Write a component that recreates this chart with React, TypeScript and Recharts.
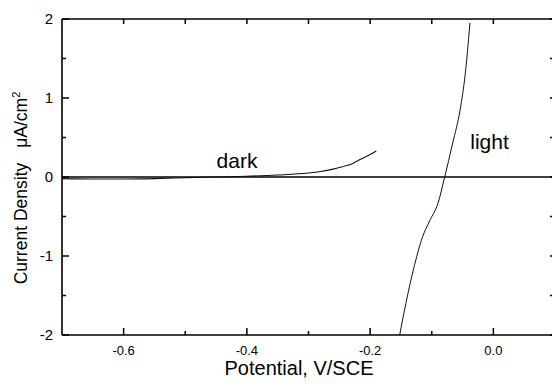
import React from "react";
import { LineChart, Line, XAxis, YAxis, ReferenceLine } from "recharts";

// Potential (V/SCE) vs current density (µA/cm²)
const darkPotential = [-0.7, -0.65, -0.6, -0.55, -0.5, -0.45, -0.4, -0.35, -0.3, -0.28, -0.26, -0.245, -0.23, -0.218, -0.205, -0.19];
const darkCurrent = [-0.02, -0.025, -0.025, -0.02, -0.01, 0.0, 0.01, 0.025, 0.05, 0.07, 0.1, 0.13, 0.165, 0.215, 0.265, 0.33];

const lightPotential = [-0.152, -0.142, -0.13, -0.115, -0.103, -0.09, -0.079, -0.066, -0.054, -0.046, -0.038];
const lightCurrent = [-2.0, -1.6, -1.18, -0.76, -0.55, -0.335, 0.0, 0.43, 0.85, 1.28, 1.95];

const xTicks = [-0.6, -0.5, -0.4, -0.3, -0.2, -0.1, 0.0];
const xMajorLabels: Record<string, string> = { "-0.6": "-0.6", "-0.4": "-0.4", "-0.2": "-0.2", "0": "0.0" };
const yTicks = [-2, -1.5, -1, -0.5, 0, 0.5, 1, 1.5, 2];

const darkData = darkPotential.map((x, i) => ({ x, y: darkCurrent[i] }));
const lightData = lightPotential.map((x, i) => ({ x, y: lightCurrent[i] }));

const FONT = "Arial, 'Liberation Sans', sans-serif";

const keyOf = (v: number) => {
  const r = Math.round(v * 10) / 10;
  return String(r === 0 ? 0 : r);
};

const renderBottomTick = (props: any) => {
  const { x, y, payload } = props;
  const label = xMajorLabels[keyOf(payload.value)];
  const major = label !== undefined;
  return (
    <g key={`bt-${payload.value}`}>
      <path d={`M${x},${y}L${x},${y - (major ? 7 : 4)}`} stroke="#000" strokeWidth={1.5} fill="none" />
      {major ? (
        <text x={x} y={y + 20} textAnchor="middle" fontSize={13} fontFamily={FONT} fill="#000">
          {label}
        </text>
      ) : null}
    </g>
  );
};

const renderLeftTick = (props: any) => {
  const { x, y, payload } = props;
  const v = payload.value;
  const major = Number.isInteger(v);
  return (
    <g key={`lt-${v}`}>
      <path d={`M${x},${y}L${x + (major ? 7 : 4)},${y}`} stroke="#000" strokeWidth={1.5} fill="none" />
      {major ? (
        <text x={x - 9} y={y} dy="0.36em" textAnchor="end" fontSize={15} fontFamily={FONT} fill="#000">
          {String(v)}
        </text>
      ) : null}
    </g>
  );
};

const blank = () => "";

export default function App() {
  return (
    <div style={{ position: "absolute", left: 0, top: 0, width: 552, height: 387, overflow: "hidden", background: "#fff" }}>
      <LineChart width={567} height={387} margin={{ top: 9, right: 2, bottom: 0, left: 0 }}>
        <XAxis
          xAxisId={0}
          type="number"
          dataKey="x"
          domain={[-0.7, 0.1]}
          ticks={xTicks}
          allowDataOverflow
          height={52}
          tickSize={0}
          tickMargin={0}
          tickLine={false}
          axisLine={{ stroke: "#000", strokeWidth: 1.6 }}
          tick={renderBottomTick}
          interval={0}
        />
        <XAxis
          xAxisId="top"
          orientation="top"
          type="number"
          dataKey="x"
          domain={[-0.7, 0.1]}
          ticks={xTicks}
          allowDataOverflow
          height={10}
          tickSize={-5}
          tickMargin={0}
          tickFormatter={blank}
          tickLine={{ stroke: "#000", strokeWidth: 1.5 }}
          axisLine={{ stroke: "#000", strokeWidth: 1.6 }}
          interval={0}
        />
        <YAxis
          yAxisId={0}
          type="number"
          domain={[-2, 2]}
          ticks={yTicks}
          allowDataOverflow
          width={62}
          tickSize={0}
          tickMargin={0}
          tickLine={false}
          axisLine={{ stroke: "#000", strokeWidth: 1.6 }}
          tick={renderLeftTick}
          interval={0}
        />
        <YAxis
          yAxisId="right"
          orientation="right"
          type="number"
          domain={[-2, 2]}
          ticks={yTicks}
          allowDataOverflow
          width={10}
          tickSize={-5}
          tickMargin={0}
          tickFormatter={blank}
          tickLine={{ stroke: "#000", strokeWidth: 1.5 }}
          axisLine={{ stroke: "#000", strokeWidth: 1.6 }}
          interval={0}
        />
        <ReferenceLine y={0} stroke="#000" strokeWidth={1.6} />
        <Line
          data={darkData}
          dataKey="y"
          type="monotone"
          stroke="#111"
          strokeWidth={1.1}
          dot={false}
          isAnimationActive={false}
        />
        <Line
          data={lightData}
          dataKey="y"
          type="monotone"
          stroke="#111"
          strokeWidth={1}
          dot={false}
          isAnimationActive={false}
        />
      </LineChart>
      <svg
        width={552}
        height={387}
        style={{ position: "absolute", left: 0, top: 0, pointerEvents: "none" }}
      >
        <text x={237} y={168} textAnchor="middle" fontSize={21} fontFamily={FONT} fill="#000">dark</text>
        <text x={489.5} y={149} textAnchor="middle" fontSize={21} fontFamily={FONT} fill="#000">light</text>
        <text x={299} y={375} textAnchor="middle" fontSize={20} fontFamily={FONT} fill="#000">Potential, V/SCE</text>
        <text
          x={27}
          y={188}
          transform="rotate(-90, 27, 188)"
          textAnchor="middle"
          fontSize={17.5}
          fontFamily={FONT}
          fill="#000"
        >
          <tspan>Current Density</tspan>
          <tspan dx={15}>μA/cm</tspan>
          <tspan dy={-7} fontSize={11}>2</tspan>
        </text>
      </svg>
    </div>
  );
}
